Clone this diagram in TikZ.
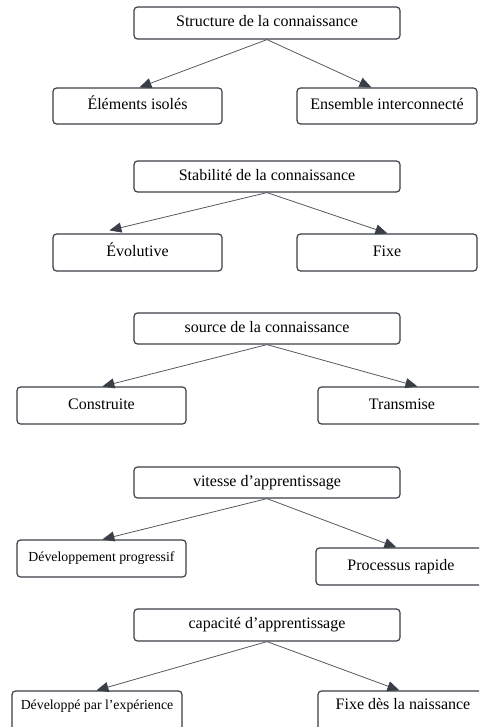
\documentclass[tikz,border=0pt]{standalone}
\usepackage{fontspec}
\setmainfont{Liberation Serif}
\usetikzlibrary{arrows.meta}
\definecolor{edge}{HTML}{3A3F47}
\definecolor{wire}{HTML}{55595F}
\tikzset{
  box/.style={draw=edge, line width=1.2pt, rounded corners=3.5pt, fill=white,
    inner sep=0pt, text height=11pt, text depth=3.5pt,
    font=\fontsize{16}{19}\selectfont},
  smalltext/.style={font=\fontsize{13.8}{16}\selectfont, text height=9.5pt, text depth=3pt},
  link/.style={draw=wire, line width=0.8pt,
    -{Triangle[length=12pt,width=10pt,fill=edge,color=edge]}}
}
\begin{document}
\begin{tikzpicture}[x=1pt,y=1pt]
\useasboundingbox (0,0) rectangle (479,-727);
\clip (0,0) rectangle (479,-727);

% --- structure
\node[box,minimum width=266pt,minimum height=32pt] (s1) at (267,-23) {Structure de la connaissance};
\node[box,minimum width=169pt,minimum height=36pt] (s1a) at (137.5,-106) {Éléments isolés};
\node[box,minimum width=180pt,minimum height=36pt] (s1b) at (387,-106) {Ensemble interconnecté};
\draw[link] (s1.south) -- ([xshift=87pt]s1a.north west);
\draw[link] (s1.south) -- ([xshift=75pt]s1b.north west);

% --- stabilite
\node[box,minimum width=266pt,minimum height=31pt] (s2) at (267,-176.5) {Stabilité de la connaissance};
\node[box,minimum width=169pt,minimum height=37pt] (s2a) at (137.5,-252.5) {Évolutive};
\node[box,minimum width=180pt,minimum height=37pt] (s2b) at (387,-252.5) {Fixe};
\draw[link] (s2.south) -- ([xshift=57pt,yshift=3pt]s2a.north west);
\draw[link] (s2.south) -- ([xshift=91pt]s2b.north west);

% --- source
\node[box,minimum width=266pt,minimum height=31pt] (s3) at (267,-328.5) {source de la connaissance};
\node[box,minimum width=169pt,minimum height=37pt] (s3a) at (101.5,-405.5) {Construite};
\node[box,minimum width=168pt,minimum height=37pt] (s3b) at (402,-405.5) {Transmise};
\draw[link] (s3.south) -- ([xshift=86pt]s3a.north west);
\draw[link] (s3.south) -- ([xshift=100pt]s3b.north west);

% --- vitesse
\node[box,minimum width=266pt,minimum height=31pt] (s4) at (267,-482.5) {vitesse d’apprentissage};
\node[box,smalltext,minimum width=169pt,minimum height=37pt] (s4a) at (101.5,-558.5) {Développement progressif};
\node[box,minimum width=170pt,minimum height=37pt] (s4b) at (401,-566.5) {Processus rapide};
\draw[link] (s4.south) -- ([xshift=86pt]s4a.north west);
\draw[link] (s4.south) -- ([xshift=81pt]s4b.north west);

% --- capacite (boxes run past the lower edge)
\node[box,minimum width=266pt,minimum height=32pt] (s5) at (267,-625) {capacité d'apprentissage};
\node[box,smalltext,minimum width=170pt,minimum height=44pt] (s5a) at (97,-713) {\raisebox{7pt}{Développé par l'expérience}};
\node[box,minimum width=170pt,minimum height=44pt] (s5b) at (403,-713) {\raisebox{7pt}{Fixe dès la naissance}};
\draw[link] (s5.south) -- ([xshift=85pt]s5a.north west);
\draw[link] (s5.south) -- ([xshift=82pt]s5b.north west);
\end{tikzpicture}
\end{document}
